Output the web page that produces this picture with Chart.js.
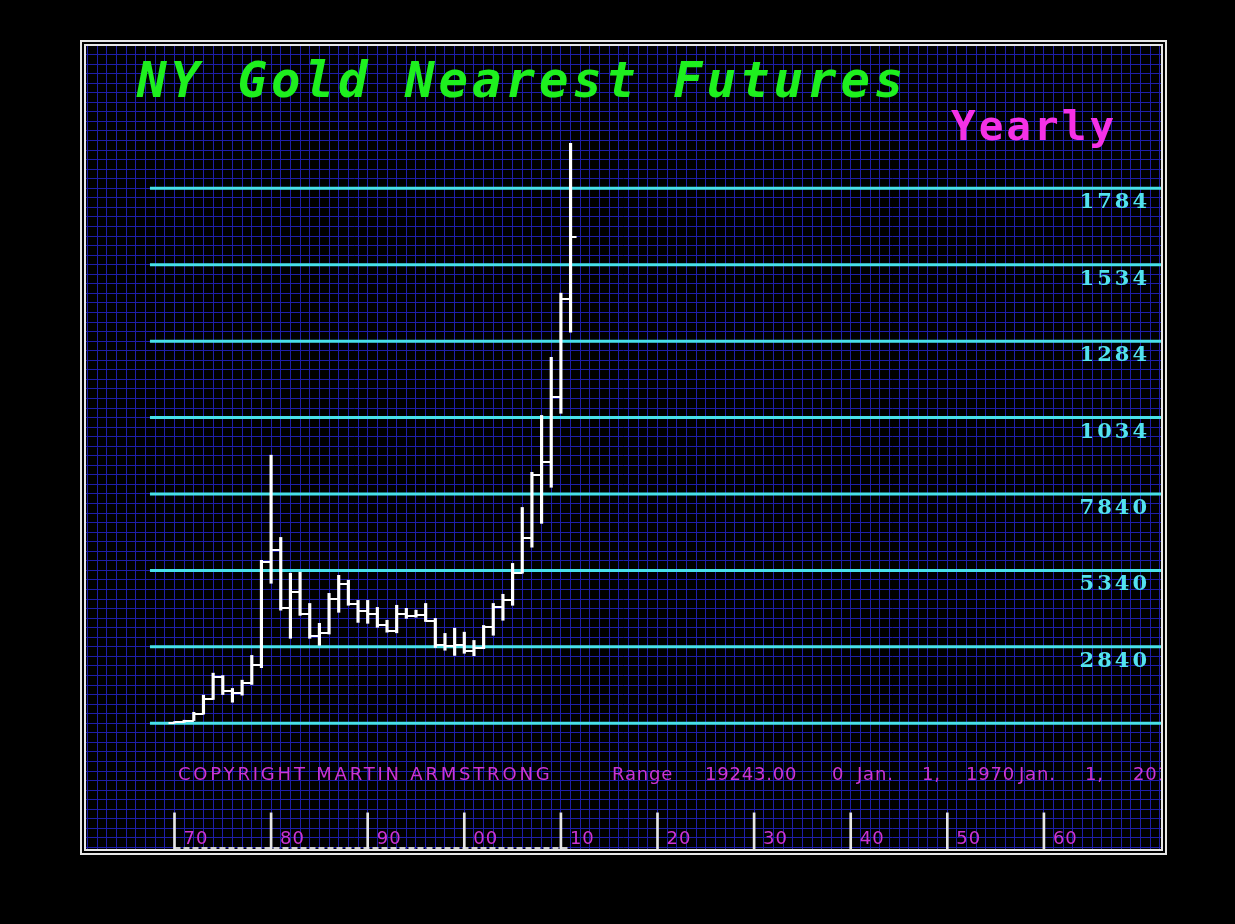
<!DOCTYPE html>
<html>
<head>
<meta charset="utf-8">
<title>NY Gold Nearest Futures</title>
<script src="https://cdn.jsdelivr.net/npm/chart.js@4.4.0/dist/chart.umd.min.js"></script>
<style>
  html, body { margin: 0; padding: 0; background: #000; }
  #wrap { position: relative; width: 1235px; height: 924px; }
  #frame { position: absolute; left: 80px; top: 40px; width: 1075px; height: 803px; border: 6px double #e6e6e6; pointer-events: none; }
</style>
</head>
<body>
<div id="wrap">
  <canvas id="myChart" width="1235" height="924"></canvas>
  <div id="frame"></div>
</div>
<script>
'use strict';
// yearly bars
const years = [1970, 1971, 1972, 1973, 1974, 1975, 1976, 1977, 1978, 1979,
  1980, 1981, 1982, 1983, 1984, 1985, 1986, 1987, 1988, 1989,
  1990, 1991, 1992, 1993, 1994, 1995, 1996, 1997, 1998, 1999,
  2000, 2001, 2002, 2003, 2004, 2005, 2006, 2007, 2008, 2009,
  2010, 2011];
const opens = [35, 37, 43, 65, 112, 186, 140, 134, 165, 226,
  560, 600, 410, 462, 390, 320, 330, 440, 490, 425,
  400, 390, 355, 335, 390, 385, 388, 370, 290, 288,
  290, 272, 279, 348, 416, 438, 525, 640, 845, 888,
  1100, 1421];
const highs = [39, 44, 70, 126, 198, 190, 148, 175, 256, 567,
  911, 642, 525, 528, 426, 361, 459, 518, 502, 436,
  436, 413, 371, 420, 410, 404, 426, 377, 328, 345,
  332, 305, 354, 426, 456, 557, 740, 855, 1041, 1231,
  1441, 1931];
const lows = [35, 37, 43, 64, 112, 128, 103, 126, 161, 216,
  492, 404, 312, 387, 312, 289, 326, 397, 420, 364,
  361, 348, 332, 330, 377, 381, 367, 282, 273, 256,
  263, 255, 278, 322, 371, 420, 525, 610, 688, 806,
  1048, 1313];
const closes = [37, 43, 65, 112, 186, 140, 134, 165, 226, 560,
  600, 410, 462, 390, 320, 330, 440, 490, 425, 400,
  390, 355, 335, 390, 385, 388, 370, 290, 288, 290,
  272, 279, 348, 416, 438, 525, 640, 845, 888, 1100,
  1421, 1624];

// price levels (cyan lines) and the labels printed under them
const levels = [1784, 1534, 1284, 1034, 784, 534, 284, 34];
const levelLabels = ['1784', '1534', '1284', '1034', '7840', '5340', '2840', ''];

// decade markers at the bottom
const decades = [1970, 1980, 1990, 2000, 2010, 2020, 2030, 2040, 2050, 2060];
const decadeLabels = ['70', '80', '90', '00', '10', '20', '30', '40', '50', '60'];

const titleText = 'NY Gold Nearest Futures';
const periodText = 'Yearly';
const copyrightText = 'COPYRIGHT MARTIN ARMSTRONG';
const rangeWords = ['Range', '19243.00', '0', 'Jan.', '1,', '1970', 'Jan.', '1,', '2011'];
const rangeWordX = [612, 705, 832, 857, 922, 966, 1019, 1085, 1133];

// scale setup
const xMin = 1960.84, xMax = 2072.12;
const yMin = -377.2, yMax = 2249.4;
const fineStep = 31.25;
const lineStart = 1967.46, lineEnd = 2075;
const decadeMarkTop = -259, decadeMarkBottom = -420;
const bottomDashY = -374;

function tickImage(side) {
  const c = document.createElement('canvas');
  c.width = 14;
  c.height = 2;
  const g = c.getContext('2d');
  g.fillStyle = '#ffffff';
  if (side === 'left') g.fillRect(1, 0, 6, 2);
  else g.fillRect(7, 0, 6, 2);
  return c;
}

const textPlugin = {
  id: 'texts',
  afterDatasetsDraw(chart) {
    const ctx = chart.ctx;
    const xs = chart.scales.x;
    const ys = chart.scales.y;
    const area = chart.chartArea;
    ctx.save();
    ctx.beginPath();
    ctx.rect(area.left, area.top, area.right - area.left, area.bottom - area.top);
    ctx.clip();
    ctx.textBaseline = 'alphabetic';

    ctx.font = 'italic bold 49px "DejaVu Sans Mono"';
    ctx.fillStyle = '#1ef01e';
    ctx.letterSpacing = '4px';
    ctx.textAlign = 'left';
    ctx.fillText(titleText, 137, 97);

    ctx.font = 'bold 41px "DejaVu Sans Mono"';
    ctx.fillStyle = '#f531e6';
    ctx.letterSpacing = '3px';
    ctx.fillText(periodText, 951, 140);

    ctx.font = 'bold 21px "DejaVu Serif"';
    ctx.fillStyle = '#52e2ee';
    ctx.letterSpacing = '3px';
    ctx.textAlign = 'right';
    for (let i = 0; i < levels.length; i++) {
      ctx.fillText(levelLabels[i], 1150, ys.getPixelForValue(levels[i]) + 20);
    }

    ctx.textAlign = 'left';
    ctx.font = '18px "DejaVu Sans"';
    ctx.fillStyle = '#cc34d2';
    ctx.letterSpacing = '2.8px';
    ctx.fillText(copyrightText, 178, 780);
    ctx.letterSpacing = '0.8px';
    for (let i = 0; i < rangeWords.length; i++) {
      ctx.fillText(rangeWords[i], rangeWordX[i], 780);
    }
    ctx.letterSpacing = '1px';
    for (let i = 0; i < decades.length; i++) {
      ctx.fillText(decadeLabels[i], xs.getPixelForValue(decades[i]) + 9, 844);
    }
    ctx.restore();
  }
};

const cyanLines = levels.map(function (lv) {
  return {
    type: 'line',
    data: [{ x: lineStart, y: lv }, { x: lineEnd, y: lv }],
    borderColor: '#48e0ea',
    borderWidth: 3,
    pointRadius: 0,
    order: 5
  };
});

const ctx = document.getElementById('myChart').getContext('2d');
const chart = new Chart(ctx, {
  type: 'bar',
  data: {
    labels: years,
    datasets: [
      {
        type: 'bar',
        data: lows.map((l, i) => [l, highs[i]]),
        backgroundColor: '#ffffff',
        borderWidth: 0,
        barThickness: 2.5,
        grouped: false,
        order: 1
      },
      {
        type: 'line',
        data: opens,
        showLine: false,
        pointStyle: tickImage('left'),
        pointRadius: 3,
        order: 0
      },
      {
        type: 'line',
        data: closes,
        showLine: false,
        pointStyle: tickImage('right'),
        pointRadius: 3,
        order: 0
      },
      {
        type: 'bar',
        data: decades.map(d => ({ x: d, y: [decadeMarkBottom, decadeMarkTop] })),
        backgroundColor: '#e6e6e6',
        borderWidth: 0,
        barThickness: 2,
        grouped: false,
        order: 2
      },
      {
        type: 'line',
        data: [{ x: years[0], y: bottomDashY }, { x: years[years.length - 1], y: bottomDashY }],
        borderColor: '#d0d0d0',
        borderWidth: 2,
        borderDash: [6, 3],
        pointRadius: 0,
        order: 3
      }
    ].concat(cyanLines)
  },
  options: {
    responsive: false,
    animation: false,
    devicePixelRatio: 1,
    events: [],
    layout: { padding: { left: 86, top: 46, right: 74, bottom: 75 } },
    plugins: { legend: { display: false }, tooltip: { enabled: false }, title: { display: false } },
    scales: {
      x: {
        type: 'linear',
        min: xMin,
        max: xMax,
        offset: false,
        ticks: { display: false, stepSize: 1, autoSkip: false, includeBounds: false },
        grid: { color: '#1e1eaa', lineWidth: 1, drawTicks: false, offset: false },
        border: { display: false }
      },
      y: {
        type: 'linear',
        min: yMin,
        max: yMax,
        ticks: { display: false },
        grid: { color: '#1e1eaa', lineWidth: 1, drawTicks: false },
        border: { display: false },
        afterBuildTicks: function (scale) {
          const t = [];
          let v = levels[levels.length - 1];
          while (v - fineStep > yMin) v -= fineStep;
          for (; v < yMax; v += fineStep) t.push({ value: v });
          scale.ticks = t;
        }
      }
    }
  },
  plugins: [textPlugin]
});
</script>
</body>
</html>
